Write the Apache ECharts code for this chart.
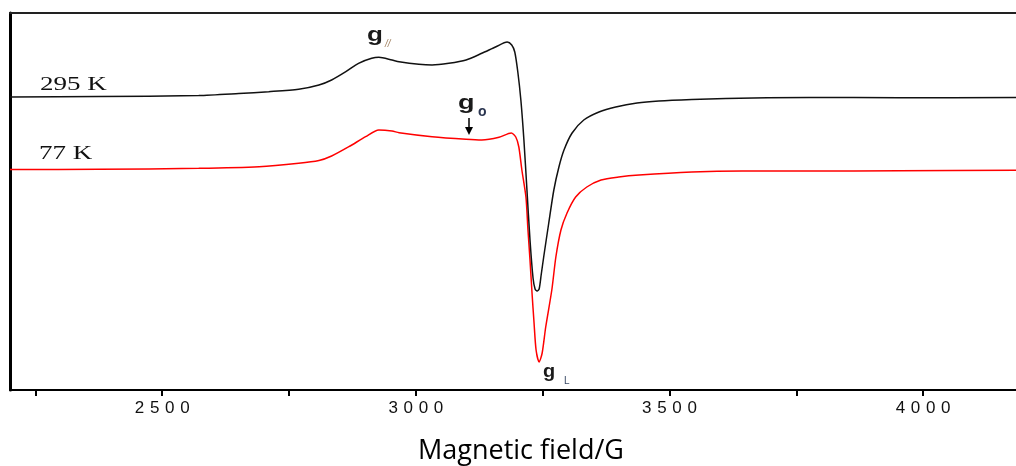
<!DOCTYPE html>
<html><head><meta charset="utf-8">
<script src="https://cdn.jsdelivr.net/npm/echarts@6/dist/echarts.min.js"></script>
<style>html,body{margin:0;padding:0;background:#fff}#c{width:1016px;height:466px}</style>
</head><body><div id="c"></div>
<script>
// Magnetic field (G) tick positions and labels
const fieldTicks = [2250, 2500, 2750, 3000, 3250, 3500, 3750, 4000];
const fieldLabels = [2500, 3000, 3500, 4000];

// EPR spectrum at 295 K (field G, intensity a.u.)
const field295 = [2200,2375,2572,2651,2710,2769,2809,2834,2862,2887,2913,2927,2953,2967,3006,3032,3065,3099,3130,3158,3180,3189,3195,3201,3207,3213,3219,3225,3231,3235,3239,3243,3247,3252,3262,3272,3282,3292,3308,3331,3361,3394,3436,3479,3544,3611,3775,3952,4183];
const signal295 = [293,293.5,294.5,296.5,298.3,300.7,305,310,318.3,326.7,331.7,332.7,330,328.3,325.7,325,326.7,330,336.7,343.3,348,345,338,318,290,250,200,150,112,101,99,101,115,133,167,200,223,240,257,270,278,283,287,289,290.5,291.5,292.5,292.3,292.5];

// EPR spectrum at 77 K
const field77 = [2200,2375,2572,2691,2769,2809,2834,2868,2901,2927,2953,2967,3032,3099,3130,3164,3188,3197,3203,3209,3217,3221,3225,3229,3233,3237,3243,3249,3256,3268,3276,3286,3298,3315,3337,3365,3400,3440,3544,3643,3775,3952,4183];
const signal77 = [220.5,220.7,221.7,223.3,226.7,229.5,234,243.3,253.3,260,259,257.3,253.3,250.7,250,252.7,257,253,243,220,193,160,130,97,67,40,28,37,63,100,133,160,177,193,203,210,213,215,218,219,219,219.3,219.7];

const pairs = (xs, ys) => xs.map((x, i) => [x, ys[i]]);

const chart = echarts.init(document.getElementById('c'), null, {renderer: 'canvas'});
const XMIN = 2200, XMAX = 4183;

const option = {
  animation: false,
  backgroundColor: '#fff',
  grid: {left: 10, right: 0, top: 13, bottom: 76, outerBoundsMode: 'none', containLabel: false},
  xAxis: [{
    type: 'value', min: XMIN, max: XMAX, position: 'bottom',
    name: 'Magnetic field/G', nameLocation: 'middle', nameGap: 48,
    nameTextStyle: {fontFamily: 'Open Sans', fontSize: 27, color: '#000', padding: [0, 0, 0, 16]},
    axisLine: {show: true, onZero: false, lineStyle: {color: '#000', width: 2}},
    axisTick: {show: true, customValues: fieldTicks, length: 6, inside: false, lineStyle: {color: '#000', width: 2}},
    axisLabel: {show: true, customValues: fieldLabels, margin: 10,
      formatter: v => String(v).split('').join('\u2005\u200a'),
      fontFamily: 'Liberation Sans', fontSize: 17, color: '#111'},
    splitLine: {show: false}
  }, {
    type: 'value', min: XMIN, max: XMAX, position: 'top',
    axisLine: {show: true, onZero: false, lineStyle: {color: '#222', width: 2}},
    axisTick: {show: false}, axisLabel: {show: false}, splitLine: {show: false}
  }],
  yAxis: {
    type: 'value', min: 0, max: 377,
    axisLine: {show: true, onZero: false, lineStyle: {color: '#000', width: 3}},
    axisTick: {show: false}, axisLabel: {show: false}, splitLine: {show: false}
  },
  series: [{
    name: '77 K', type: 'line', data: pairs(field77, signal77), showSymbol: false,
    smooth: 0.25, lineStyle: {color: '#ff0000', width: 1.5}, itemStyle: {color: '#ff0000'}
  }, {
    name: '295 K', type: 'line', data: pairs(field295, signal295), showSymbol: false,
    smooth: 0.25, lineStyle: {color: '#111', width: 1.5}, itemStyle: {color: '#111'}
  }],
  graphic: [
    {type: 'text', x: 40, y: 85, scaleX: 1.5, style: {text: '295 K', font: '18px "Liberation Serif"', fill: '#111', verticalAlign: 'middle'}},
    {type: 'text', x: 39, y: 154.5, scaleX: 1.5, style: {text: '77 K', font: '18px "Liberation Serif"', fill: '#111', verticalAlign: 'middle'}},
    {type: 'text', x: 367, y: 35.5, scaleX: 1.3, style: {text: 'g', font: 'bold 20px "Liberation Sans"', fill: '#1a1a1a', verticalAlign: 'middle'}},
    {type: 'text', x: 385, y: 44, style: {text: '//', font: 'italic 10px "Liberation Sans"', fill: '#a08060', verticalAlign: 'middle'}},
    {type: 'text', x: 458, y: 103.5, scaleX: 1.35, style: {text: 'g', font: 'bold 20px "Liberation Sans"', fill: '#1a1a1a', verticalAlign: 'middle'}},
    {type: 'text', x: 478, y: 112, style: {text: 'o', font: 'bold 14px "Liberation Sans"', fill: '#2a3550', verticalAlign: 'middle'}},
    {type: 'line', shape: {x1: 469, y1: 118, x2: 469, y2: 128}, style: {stroke: '#000', lineWidth: 1.5}},
    {type: 'polygon', shape: {points: [[465, 127], [473, 127], [469, 135]]}, style: {fill: '#000'}},
    {type: 'text', x: 543, y: 372, scaleX: 1.05, style: {text: 'g', font: 'bold 19px "Liberation Sans"', fill: '#1a1a1a', verticalAlign: 'middle'}},
    {type: 'text', x: 564, y: 381, style: {text: 'L', font: '10px "Liberation Sans"', fill: '#3a4a66', verticalAlign: 'middle'}}
  ]
};
chart.setOption(option);
</script></body></html>
